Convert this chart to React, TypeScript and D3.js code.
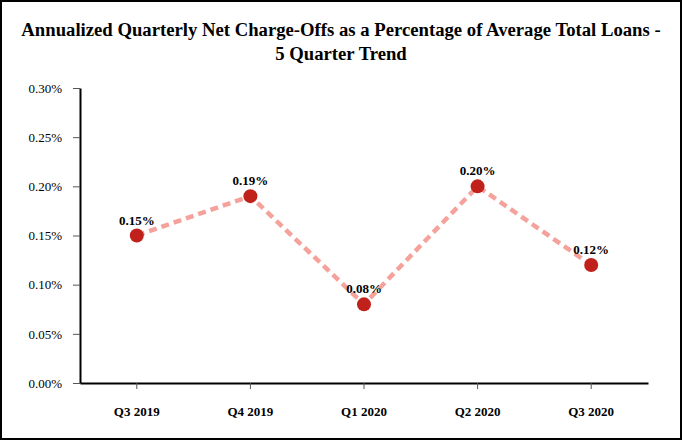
import { useRef, useEffect } from 'react';
import * as d3 from 'd3';

const quarters = ['Q3 2019', 'Q4 2019', 'Q1 2020', 'Q2 2020', 'Q3 2020'];
const chargeOffs = [0.15, 0.19, 0.08, 0.2, 0.12];
const yTicks = [0, 0.05, 0.1, 0.15, 0.2, 0.25, 0.3];
const titleLines = [
  'Annualized Quarterly Net Charge-Offs as a Percentage of Average Total Loans -',
  '5 Quarter Trend',
];

const W = 682;
const H = 440;

export default function App() {
  const svgRef = useRef<SVGSVGElement>(null);

  useEffect(() => {
    if (!svgRef.current) return;
    const svg = d3.select(svgRef.current);
    svg.selectAll('*').remove();

    const margin = { top: 88, right: 34, bottom: 57, left: 80 };
    const font = '"Liberation Serif", "Times New Roman", serif';

    svg.append('rect')
      .attr('x', 1).attr('y', 1)
      .attr('width', W - 2).attr('height', H - 2)
      .attr('fill', '#fff')
      .attr('stroke', '#000')
      .attr('stroke-width', 2);

    // Title
    svg.selectAll('.title')
      .data(titleLines)
      .enter()
      .append('text')
      .attr('class', 'title')
      .attr('x', W / 2)
      .attr('y', (_, i) => 36 + i * 24)
      .attr('text-anchor', 'middle')
      .attr('font-family', font)
      .attr('font-weight', 'bold')
      .attr('font-size', 18.7)
      .text(d => d);

    const x = d3.scaleBand<string>()
      .domain(quarters)
      .range([margin.left, W - margin.right]);

    const y = d3.scaleLinear()
      .domain([0, 0.3])
      .range([H - margin.bottom, margin.top]);

    // Y axis
    const yAxis = svg.append('g')
      .attr('transform', `translate(${margin.left},0)`)
      .call(
        d3.axisLeft(y)
          .tickValues(yTicks)
          .tickSize(7)
          .tickPadding(11)
          .tickSizeOuter(0)
          .tickFormat(d => `${(d as number).toFixed(2)}%`)
      );
    yAxis.select('.domain').attr('stroke', '#000').attr('stroke-width', 2);
    yAxis.selectAll('.tick line').attr('stroke', '#555');
    yAxis.selectAll('text')
      .attr('font-family', font)
      .attr('font-size', 13)
      .attr('fill', '#000');

    // X axis
    const xAxis = svg.append('g')
      .attr('transform', `translate(0,${H - margin.bottom})`)
      .call(d3.axisBottom(x).tickSize(6).tickPadding(18).tickSizeOuter(0));
    xAxis.select('.domain').attr('stroke', '#000').attr('stroke-width', 2);
    xAxis.selectAll('.tick line').attr('stroke', '#555');
    xAxis.selectAll('text')
      .attr('font-family', font)
      .attr('font-weight', 'bold')
      .attr('font-size', 13)
      .attr('fill', '#000');

    const cx = (i: number) => (x(quarters[i]) as number) + x.bandwidth() / 2;

    // Dashed line
    const line = d3.line<number>()
      .x((_, i) => cx(i))
      .y(d => y(d));

    svg.append('path')
      .datum(chargeOffs)
      .attr('fill', 'none')
      .attr('stroke', '#f4a29b')
      .attr('stroke-width', 4.5)
      .attr('stroke-dasharray', '8,5')
      .attr('d', line);

    // Points
    svg.selectAll('.pt')
      .data(chargeOffs)
      .enter()
      .append('circle')
      .attr('class', 'pt')
      .attr('cx', (_, i) => cx(i))
      .attr('cy', d => y(d))
      .attr('r', 7)
      .attr('fill', '#c0211b');

    // Labels
    svg.selectAll('.lbl')
      .data(chargeOffs)
      .enter()
      .append('text')
      .attr('class', 'lbl')
      .attr('x', (_, i) => cx(i))
      .attr('y', d => y(d) - 11)
      .attr('text-anchor', 'middle')
      .attr('font-family', font)
      .attr('font-weight', 'bold')
      .attr('font-size', 13)
      .text(d => `${d.toFixed(2)}%`);
  }, []);

  return (
    <svg
      ref={svgRef}
      width={W}
      height={H}
      style={{ position: 'absolute', left: 0, top: 0, display: 'block' }}
    />
  );
}
